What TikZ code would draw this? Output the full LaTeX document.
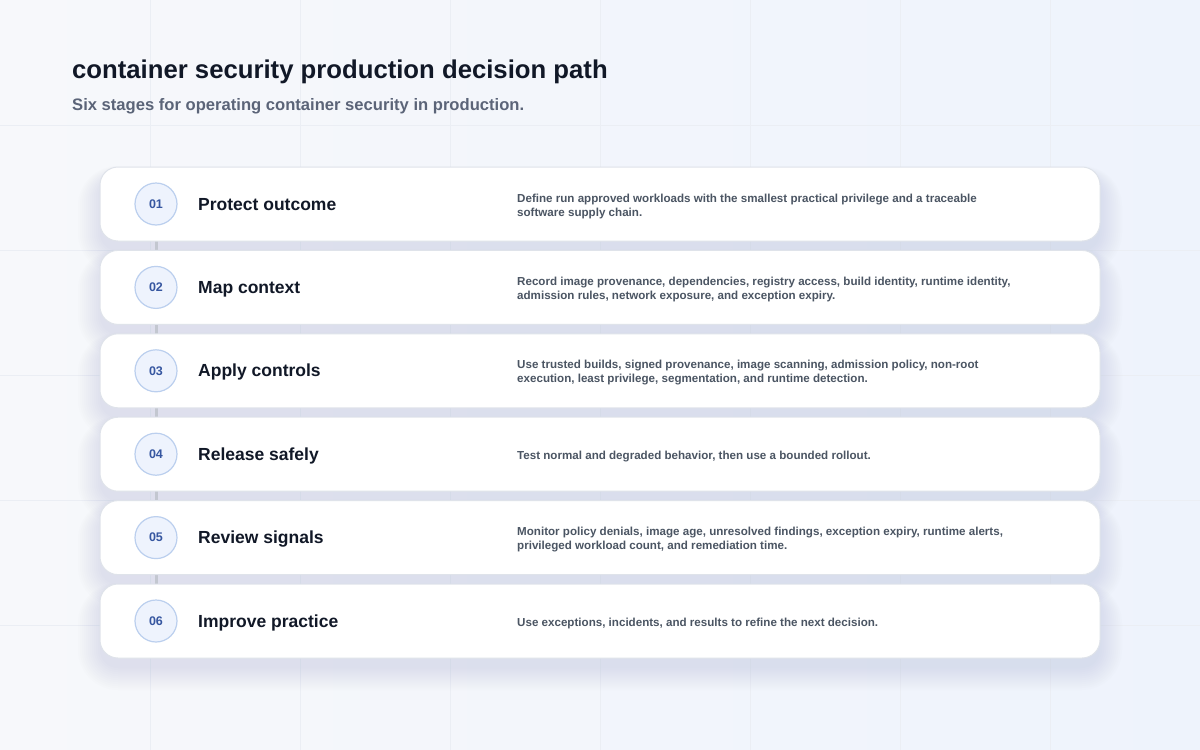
\documentclass[tikz,border=0pt]{standalone}
\usepackage{fontspec}
\setmainfont{Liberation Sans}
\definecolor{bgA}{HTML}{F7F8FB}
\definecolor{bgB}{HTML}{EEF3FC}
\definecolor{gridc}{HTML}{EBEEF4}
\definecolor{shadowc}{HTML}{98A1B8}
\definecolor{cardborder}{HTML}{DFE3EA}
\definecolor{titlec}{HTML}{111827}
\definecolor{subc}{HTML}{5B6478}
\definecolor{descc}{HTML}{4B5563}
\definecolor{numc}{HTML}{3656A0}
\definecolor{circfill}{HTML}{EEF3FD}
\definecolor{circline}{HTML}{BBCFEE}
\definecolor{linkc}{HTML}{C3C7D0}
\tikzset{
  card/.style={draw=cardborder, line width=1pt, fill=white, rounded corners=18pt,
    minimum width=1000pt, minimum height=74pt, inner sep=0pt},
  numcirc/.style={circle, draw=circline, line width=1.2pt, fill=circfill,
    minimum size=42pt, inner sep=0pt, text=numc,
    font=\fontsize{12.5}{14}\selectfont\bfseries},
  stagetitle/.style={anchor=base west, inner sep=0pt, text=titlec,
    font=\fontsize{17.5}{20}\selectfont\bfseries},
  stagedesc/.style={anchor=base west, inner sep=0pt, text=descc,
    font=\fontsize{11.6}{14}\selectfont\bfseries},
  link/.style={draw=linkc, line width=3pt},
}
\begin{document}
\begin{tikzpicture}[x=1pt,y=-1pt]
\useasboundingbox (0,0) rectangle (1200,750);
% background
\fill[left color=bgA, right color=bgB] (0,0) rectangle (1200,750);
\foreach \gx in {150,300,...,1050} { \draw[gridc, line width=0.8pt] (\gx,0) -- (\gx,750); }
\foreach \gy in {125,250,...,625} { \draw[gridc, line width=0.8pt] (0,\gy) -- (1200,\gy); }
% heading
\node[anchor=base west, inner sep=0pt, text=titlec, font=\fontsize{25.7}{30}\selectfont\bfseries] (title) at (72,78) {container security production decision path};
\node[anchor=base west, inner sep=0pt, text=subc, font=\fontsize{16.6}{20}\selectfont\bfseries] (subtitle) at (72,110) {Six stages for operating container security in production.};
% shadows
\foreach \cy in {204,287.4,370.8,454.2,537.6,621}{
  \foreach \k in {0,...,11}{
    \pgfmathsetmacro\rr{18+2*\k}
    \fill[shadowc, opacity=0.017, rounded corners=\rr pt] (100-2*\k,\cy-27-\k) rectangle (1100+2*\k,\cy+47+2*\k);
  }
}
% circles coordinates for links
\coordinate (p1) at (156,204);
\coordinate (p2) at (156,287.4);
\coordinate (p3) at (156,370.8);
\coordinate (p4) at (156,454.2);
\coordinate (p5) at (156,537.6);
\coordinate (p6) at (156,621);
\draw[link] (p1) -- (p2);
\draw[link] (p2) -- (p3);
\draw[link] (p3) -- (p4);
\draw[link] (p4) -- (p5);
\draw[link] (p5) -- (p6);
% cards
\node[card] (c1) at (600,204) {};
\node[card] (c2) at (600,287.4) {};
\node[card] (c3) at (600,370.8) {};
\node[card] (c4) at (600,454.2) {};
\node[card] (c5) at (600,537.6) {};
\node[card] (c6) at (600,621) {};
% number circles
\node[numcirc] (n1) at (p1) {01};
\node[numcirc] (n2) at (p2) {02};
\node[numcirc] (n3) at (p3) {03};
\node[numcirc] (n4) at (p4) {04};
\node[numcirc] (n5) at (p5) {05};
\node[numcirc] (n6) at (p6) {06};
% titles
\node[stagetitle] (t1) at (198,210) {Protect outcome};
\node[stagetitle] (t2) at (198,293.4) {Map context};
\node[stagetitle] (t3) at (198,376.8) {Apply controls};
\node[stagetitle] (t4) at (198,460.2) {Release safely};
\node[stagetitle] (t5) at (198,543.6) {Review signals};
\node[stagetitle] (t6) at (198,627) {Improve practice};
% descriptions
\node[stagedesc] (d1a) at (517,202) {Define run approved workloads with the smallest practical privilege and a traceable};
\node[stagedesc] (d1b) at (517,216) {software supply chain.};
\node[stagedesc] (d2a) at (517,285.4) {Record image provenance, dependencies, registry access, build identity, runtime identity,};
\node[stagedesc] (d2b) at (517,299.4) {admission rules, network exposure, and exception expiry.};
\node[stagedesc] (d3a) at (517,368.8) {Use trusted builds, signed provenance, image scanning, admission policy, non-root};
\node[stagedesc] (d3b) at (517,382.8) {execution, least privilege, segmentation, and runtime detection.};
\node[stagedesc] (d4a) at (517,459.2) {Test normal and degraded behavior, then use a bounded rollout.};
\node[stagedesc] (d5a) at (517,535.6) {Monitor policy denials, image age, unresolved findings, exception expiry, runtime alerts,};
\node[stagedesc] (d5b) at (517,549.6) {privileged workload count, and remediation time.};
\node[stagedesc] (d6a) at (517,626) {Use exceptions, incidents, and results to refine the next decision.};
\end{tikzpicture}
\end{document}
